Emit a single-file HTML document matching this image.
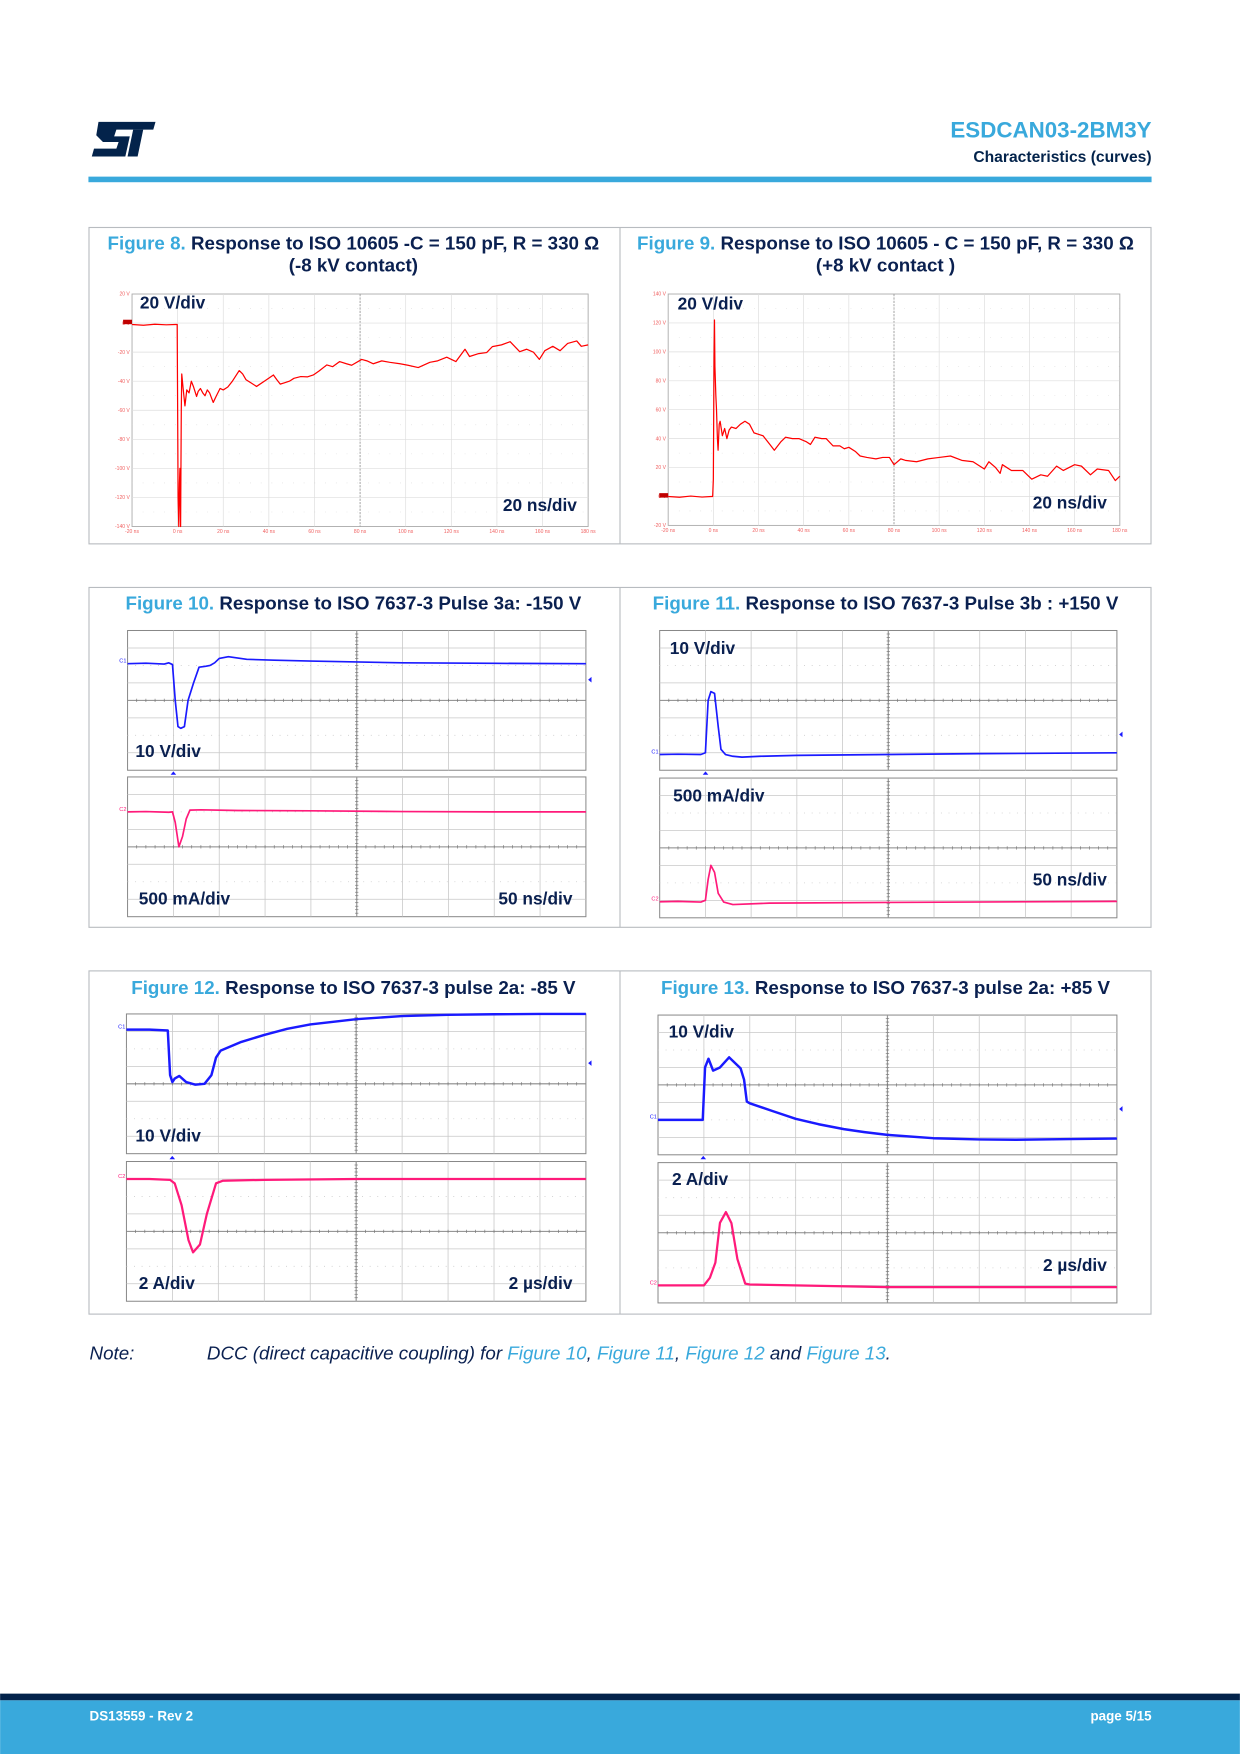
<!DOCTYPE html>
<html><head><meta charset="utf-8"><style>
html,body{margin:0;padding:0;background:#fff;}
svg{display:block;font-family:"Liberation Sans",Arial,sans-serif;}
.t{font-weight:bold;font-size:16.8px;fill:#0a2050;}
.b{fill:#39a9dc;}
.lab{font-weight:bold;font-size:15.5px;fill:#0a2050;}
.ax{font-size:4.5px;fill:#f06060;}
</style></head><body>
<svg id="page" width="1240" height="1754" viewBox="0 0 1109 1569" xmlns="http://www.w3.org/2000/svg">
<g fill="#03234b">
<polygon points="88,109 139,109 137,116 104,116 102,122 116,122 112,140 82,140 84,133 104,133 106,127 92,127 86,121"/>
<polygon points="119,116 128,116 123,140 114,140"/>
</g>
<text x="1030" y="123" text-anchor="end" font-weight="bold" font-size="20" fill="#39a9dc">ESDCAN03-2BM3Y</text>
<text x="1030" y="145" text-anchor="end" font-weight="bold" font-size="14" fill="#03234b">Characteristics (curves)</text>
<rect x="79" y="158" width="951" height="5" fill="#39a9dc"/>

<g fill="none" stroke="#b8bcc0" stroke-width="1">
<rect x="79.5" y="203.5" width="950" height="283"/><line x1="554.5" y1="203.5" x2="554.5" y2="486.5"/>
<rect x="79.5" y="525.5" width="950" height="304"/><line x1="554.5" y1="525.5" x2="554.5" y2="829.5"/>
<rect x="79.5" y="868.5" width="950" height="307"/><line x1="554.5" y1="868.5" x2="554.5" y2="1175.5"/>
</g>

<text class="t" x="316" y="223" text-anchor="middle"><tspan class="b">Figure 8.</tspan> Response to ISO 10605 -C = 150 pF, R = 330 Ω</text>
<text class="t" x="316" y="243" text-anchor="middle">(-8 kV contact)</text>
<text class="t" x="792" y="223" text-anchor="middle"><tspan class="b">Figure 9.</tspan> Response to ISO 10605 - C = 150 pF, R = 330 Ω</text>
<text class="t" x="792" y="243" text-anchor="middle">(+8 kV contact )</text>
<text class="t" x="316" y="545" text-anchor="middle"><tspan class="b">Figure 10.</tspan> Response to ISO 7637-3 Pulse 3a: -150 V</text>
<text class="t" x="792" y="545" text-anchor="middle"><tspan class="b">Figure 11.</tspan> Response to ISO 7637-3 Pulse 3b : +150 V</text>
<text class="t" x="316" y="889" text-anchor="middle"><tspan class="b">Figure 12.</tspan> Response to ISO 7637-3 pulse 2a: -85 V</text>
<text class="t" x="792" y="889" text-anchor="middle"><tspan class="b">Figure 13.</tspan> Response to ISO 7637-3 pulse 2a: +85 V</text>

<g id="charts"></g>

<text x="80" y="1216" font-size="16.8" font-style="italic" fill="#0a2050">Note:<tspan x="185">DCC (direct capacitive coupling) for </tspan><tspan class="b">Figure 10</tspan>, <tspan class="b">Figure 11</tspan>, <tspan class="b">Figure 12</tspan> and <tspan class="b">Figure 13</tspan>.</text>

<rect x="0" y="1515" width="1109" height="6" fill="#03234b"/>
<rect x="0" y="1521" width="1109" height="48" fill="#39a9dc"/>
<text x="80" y="1539" font-size="12" font-weight="bold" fill="#fff">DS13559 - Rev 2</text>
<text x="1030" y="1539" text-anchor="end" font-size="12" font-weight="bold" fill="#fff">page 5/15</text>
</svg>
<script>
// ---- Figure 8 data (ns, V)
var f8Time=[-20,-15,-10,-5,-1,-0.2,0,0.2,0.5,0.8,1,1.3,1.6,1.8,2.4,3.2,4,5,6,7,8.3,9,10,11,12,13,14,15.6,17,18.6,20,22,24,27,28.5,30,32,34.6,38,42,43.5,45,47,49,51,54,57,59.5,62,65.4,68,71,74,76.3,80.7,83,85.8,89.5,93,97.5,101,105.5,110.6,114,118,122,126,128,132,135.5,138,142,145.8,150,153,156,158.6,161,164.5,167.7,171,175,177,180];
var f8Volt=[-1,-1.5,-0.8,-1.2,-1,-1,-60,-120,-140,-110,-100,-140,-60,-35,-45,-57,-46,-48,-40,-44,-50.5,-47,-45,-48,-50,-46,-48,-54.6,-50,-45,-46,-44,-40,-32.7,-35,-39,-41,-43.6,-40,-35.7,-39,-42,-41,-40,-38,-36.8,-37,-35.7,-33,-28.8,-30,-26.5,-28,-29,-25,-26,-28,-26,-27,-28,-29,-30.6,-27,-26,-23.5,-26.5,-18,-23,-21,-20.3,-16.2,-15,-12.8,-19.7,-18,-20,-25,-19,-16,-19,-14,-12.3,-16,-15];
var f8XTicks=["-20 ns","0 ns","20 ns","40 ns","60 ns","80 ns","100 ns","120 ns","140 ns","160 ns","180 ns"];
var f8YTicks=["20 V","0 V","-20 V","-40 V","-60 V","-80 V","-100 V","-120 V","-140 V"];
// ---- Figure 9 data (ns, V)
var f9Time=[-20,-15,-10,-5,-1,-0.3,0,0.3,0.5,0.7,0.9,1.1,1.4,1.8,2.1,2.6,3,4,5,6,7,8,10,12,14,16,18,20,22,25,27,30,32,35,38,41,43,45,48,50,53,56,58,60,63,65,68,72,75,78,80,83,85,90,95,100,105,110,115,120,122,125,127,128,132,137,141,145,148,152,155,160,163,167,170,175,178,180];
var f9Volt=[0,-0.5,0.3,-0.4,0,0,12,95,122,90,80,70,60,40,32,50,52,42,47,40,46,48,47,50,52,50,44,43,42,36,32,38,41,40,40,38,36,41,40,40,35,35,33,34,31,28,27,26,27,27,22,26,25,24,26,27,28,25,24,19,24,20,16,22,18,18,12,15,14,21,18,22,21,15,19,18,11,14];
var f9XTicks=["-20 ns","0 ns","20 ns","40 ns","60 ns","80 ns","100 ns","120 ns","140 ns","160 ns","180 ns"];
var f9YTicks=["140 V","120 V","100 V","80 V","60 V","40 V","20 V","0 V","-20 V"];
// ---- Figure 10 (ns; V and mA)
var f10Time=[0,20,40,45,49,52,55,58,62,66,72,78,85,90,95,100,110,130,160,200,300,400,500];
var f10Volt=[21,21.3,20.8,21.5,20.5,0,-15,-16,-15,0,10,19,19.5,20,21.5,24,25,23.5,23,22.5,21.5,21.2,21];
var f10CurTime=[0,20,45,49,52,56,60,64,68,80,120,200,300,400,500];
var f10Cur=[1000,1010,990,1000,700,0,300,800,1050,1060,1040,1030,1010,1000,1000];
// ---- Figure 11 (ns; V and mA)
var f11Time=[0,20,45,50,53,56,60,64,67,72,80,90,110,150,250,350,500];
var f11Volt=[-31,-30.8,-31,-30,0,5,4,-15,-28,-31,-32,-32.5,-32,-31.5,-31,-30.5,-30];
var f11CurTime=[0,20,45,50,53,56,60,64,70,80,120,250,500];
var f11Cur=[-1540,-1530,-1550,-1500,-900,-500,-700,-1300,-1550,-1620,-1580,-1560,-1530];
// ---- Figure 12 (us; V and A)
var f12Time=[0,1,1.8,1.9,2.0,2.1,2.3,2.6,3.0,3.4,3.7,3.9,4.1,5,6,7,8,10,12,14,16,18,20];
var f12Volt=[31,31,30.5,5,1,3,4.5,1,-0.5,0,5,15,19,24,28,31.5,34,37,38.8,39.5,39.8,40,40];
var f12CurTime=[0,1,1.9,2.1,2.4,2.7,2.9,3.2,3.5,3.9,4.2,6,10,15,20];
var f12Cur=[6,6,5.9,5.5,3,-1,-2.4,-1.5,2,5.5,5.8,5.9,6,6,6];
// ---- Figure 13 (us; V and A)
var f13Time=[0,1,1.95,2.05,2.2,2.4,2.7,3.1,3.6,3.75,3.87,4.0,5,6,7,8.1,9,10,12,14,15.6,18,20];
var f13Volt=[-20,-20,-20,10,15,8.2,10,15.8,9.5,3,-9.5,-10.5,-15,-19.4,-22.5,-25.3,-27,-28.6,-30.5,-31.2,-31.4,-31,-30.7];
var f13CurTime=[0,1,2.0,2.26,2.5,2.7,2.96,3.2,3.46,3.8,4.0,10,20];
var f13Cur=[-6,-6,-6,-5.14,-3.4,1.14,2.36,1.1,-3,-5.8,-5.9,-6.2,-6.2];

var NS='http://www.w3.org/2000/svg';
var root=document.getElementById('charts');
function mk(tag,attrs,parent){var e=document.createElementNS(NS,tag);for(var k in attrs)e.setAttribute(k,attrs[k]);(parent||root).appendChild(e);return e;}
function pathFrom(xs,ys,sx,sy){var d='';for(var i=0;i<xs.length;i++){d+=(i?'L':'M')+sx(xs[i]).toFixed(2)+','+sy(ys[i]).toFixed(2);}return d;}

function esdPlot(name,x,y,w,h,tmin,tmax,vmin,vmax,ts,vs,xt,yt){
  var g=mk('g',{});
  
  
  mk('rect',{x:x,y:y,width:w,height:h,fill:'#fff',stroke:'#aaa','stroke-width':0.8},g);
  for(var i=1;i<10;i++){var xx=x+w*i/10;mk('line',{x1:xx,y1:y,x2:xx,y2:y+h,stroke:i==5?'#999':'#ddd','stroke-width':i==5?0.8:0.6,'stroke-dasharray':i==5?'2,1':''},g);}
  for(var j=1;j<8;j++){var yy=y+h*j/8;mk('line',{x1:x,y1:yy,x2:x+w,y2:yy,stroke:'#ddd','stroke-width':0.6},g);}
  for(var j2=0;j2<8;j2++){var yd=y+h*(j2+0.5)/8;mk('line',{x1:x,y1:yd,x2:x+w,y2:yd,stroke:'#ccc','stroke-width':0.5,'stroke-dasharray':'0.6,9'},g);}
  for(var a=0;a<xt.length;a++){var tx=mk('text',{x:x+w*a/(xt.length-1),y:y+h+6,'text-anchor':'middle','class':'ax'},g);tx.textContent=xt[a];}
  for(var b=0;b<yt.length;b++){var ty=mk('text',{x:x-2,y:y+h*b/(yt.length-1)+1.5,'text-anchor':'end','class':'ax'},g);ty.textContent=yt[b];}
  var sx=function(t){return x+(t-tmin)/(tmax-tmin)*w;};
  var sy=function(v){return y+(vmax-v)/(vmax-vmin)*h;};
  var p=mk('path',{d:pathFrom(ts,vs,sx,sy),fill:'none',stroke:'#f00','stroke-width':1.1,'stroke-linejoin':'round'},g);
  
  
  var m=mk('rect',{x:x-8,y:sy(0)-3,width:8,height:4,fill:'#c00000'},g);
  
  
}
esdPlot('fig8-chart',118,263,408,208,-20,180,-140,20,f8Time,f8Volt,f8XTicks,f8YTicks);
esdPlot('fig9-chart',597.6,263,404,207,-20,180,-20,140,f9Time,f9Volt,f9XTicks,f9YTicks);

function scope(name,x,y,w,h,tmax,perDiv,ts,vs,color,sw,label){
  var g=mk('g',{});
  
  
  mk('rect',{x:x,y:y,width:w,height:h,fill:'#fff',stroke:'#888','stroke-width':0.9},g);
  for(var i=1;i<10;i++){var xx=x+w*i/10;mk('line',{x1:xx,y1:y,x2:xx,y2:y+h,stroke:i==5?'#999':'#c8c8c8','stroke-width':i==5?1.1:0.7},g);}
  for(var j=1;j<8;j++){var yy=y+h*j/8;mk('line',{x1:x,y1:yy,x2:x+w,y2:yy,stroke:j==4?'#888':'#c8c8c8','stroke-width':j==4?0.9:0.7,'stroke-dasharray':(j==2||j==6)?'0.8,6':''},g);}
  for(var k=1;k<50;k++){var tx=x+w*k/50;mk('line',{x1:tx,y1:y+h/2-1.5,x2:tx,y2:y+h/2+1.5,stroke:'#777','stroke-width':0.6},g);}
  var cx=x+w/2;for(var k2=1;k2<40;k2++){var tyy=y+h*k2/40;mk('line',{x1:cx-1.5,y1:tyy,x2:cx+1.5,y2:tyy,stroke:'#777','stroke-width':0.6},g);}
  var sx=function(t){return x+t/tmax*w;};
  var sy=function(v){return y+h/2-v/perDiv*(h/8);};
  var p=mk('path',{d:pathFrom(ts,vs,sx,sy),fill:'none',stroke:color,'stroke-width':sw,'stroke-linejoin':'round'},g);
  
  
  var c=mk('text',{x:x-1,y:sy(vs[0])-1,'text-anchor':'end','font-size':5,fill:color},g);
  c.textContent=label;
  
  
}
function lab(name,x,y,txt,anchor){var t=mk('text',{x:x,y:y,'class':'lab','text-anchor':anchor||'start'});t.textContent=txt;}
function tri(x,y,dir,color){var pts=dir=='up'?[x-2.5,y+3,x+2.5,y+3,x,y]:[x+3,y-2.5,x+3,y+2.5,x,y];var p=mk('polygon',{points:pts.join(','),fill:color});}

scope('fig10-voltage-chart',114,564,410,125,500,10,f10Time,f10Volt,'#1a1aff',1.5,'C1');
scope('fig10-current-chart',114,695,410,125,500,500,f10CurTime,f10Cur,'#ff1a7a',1.5,'C2');
scope('fig11-voltage-chart',590,564,409,125,500,10,f11Time,f11Volt,'#1a1aff',1.5,'C1');
scope('fig11-current-chart',590,696,409,125,500,500,f11CurTime,f11Cur,'#ff1a7a',1.5,'C2');
scope('fig12-voltage-chart',113,907,411,125,20,10,f12Time,f12Volt,'#1a1aff',2.2,'C1');
scope('fig12-current-chart',113,1039,411,125,20,2,f12CurTime,f12Cur,'#ff1a7a',2,'C2');
scope('fig13-voltage-chart',588.5,908,410.5,125,20,10,f13Time,f13Volt,'#1a1aff',2.2,'C1');
scope('fig13-current-chart',588.5,1040,410.5,125.5,20,2,f13CurTime,f13Cur,'#ff1a7a',2,'C2');

tri(155,690,'up','#1a1aff');tri(526,608,'left','#1a1aff');
tri(631,690,'up','#1a1aff');tri(1001,657,'left','#1a1aff');
tri(154,1034,'up','#1a1aff');tri(526,951,'left','#1a1aff');
tri(629,1034,'up','#1a1aff');tri(1001,992,'left','#1a1aff');

lab('fig8-vdiv-label',125,276,'20 V/div');lab('fig8-tdiv-label',516,457,'20 ns/div','end');
lab('fig9-vdiv-label',606,277,'20 V/div');lab('fig9-tdiv-label',990,455,'20 ns/div','end');
lab('fig10-vdiv-label',121,677,'10 V/div');lab('fig10-idiv-label',124,809,'500 mA/div');lab('fig10-tdiv-label',512,809,'50 ns/div','end');
lab('fig11-vdiv-label',599,585,'10 V/div');lab('fig11-idiv-label',602,717,'500 mA/div');lab('fig11-tdiv-label',990,792,'50 ns/div','end');
lab('fig12-vdiv-label',121,1021,'10 V/div');lab('fig12-idiv-label',124,1153,'2 A/div');lab('fig12-tdiv-label',512,1153,'2 µs/div','end');
lab('fig13-vdiv-label',598,928,'10 V/div');lab('fig13-idiv-label',601,1060,'2 A/div');lab('fig13-tdiv-label',990,1137,'2 µs/div','end');
</script>
</body></html>
